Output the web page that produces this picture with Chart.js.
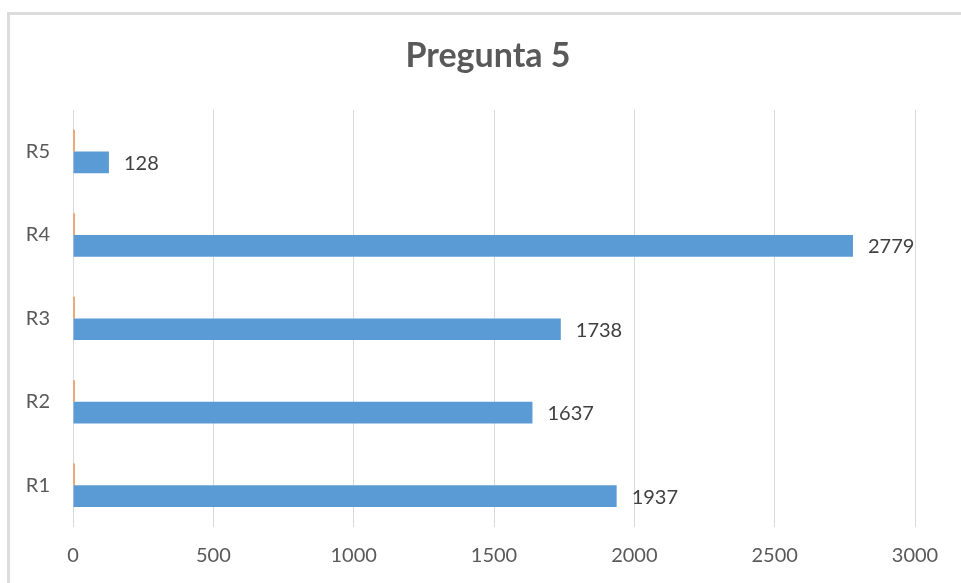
<!DOCTYPE html>
<html>
<head>
<meta charset="utf-8">
<script src="https://cdn.jsdelivr.net/npm/chart.js@4"></script>
<style>
    body { margin: 0; background: #fff; overflow: hidden; }
    #frame {
        position: absolute; left: 7px; top: 12px;
        width: 1000px; height: 1000px;
        border: 3px solid #dcdcdc;
    }
    #wrap { position: absolute; left: 0; top: 0; width: 961px; height: 583px; }
</style>
</head>
<body>
<div id="frame"></div>
<div id="wrap"><canvas id="chart" width="961" height="583"></canvas></div>
<script>
// Categories and values (bottom to top)
const categories = ["R1", "R2", "R3", "R4", "R5"];
const mainValues = [1937, 1637, 1738, 2779, 128];
const smallValues = [6, 6, 6, 6, 6];
const xTicks = [0, 500, 1000, 1500, 2000, 2500, 3000];

// Draws the value next to each blue bar
const valueLabels = {
    id: "valueLabels",
    afterDatasetsDraw(chart) {
        const ctx = chart.ctx;
        const meta = chart.getDatasetMeta(1);
        ctx.save();
        ctx.font = "20px Lato";
        ctx.fillStyle = "#404040";
        ctx.textAlign = "left";
        ctx.textBaseline = "middle";
        meta.data.forEach((bar, i) => {
            ctx.fillText(String(mainValues[i]), bar.x + 15, bar.y + 1);
        });
        ctx.restore();
    }
};

new Chart(document.getElementById("chart"), {
    type: "bar",
    data: {
        labels: categories,
        datasets: [
            {
                label: "Serie 2",
                data: smallValues,
                backgroundColor: "#ed7d31",
                categoryPercentage: 0.52,
                barPercentage: 1
            },
            {
                label: "Serie 1",
                data: mainValues,
                backgroundColor: "#5b9bd5",
                categoryPercentage: 0.52,
                barPercentage: 1
            }
        ]
    },
    options: {
        indexAxis: "y",
        responsive: false,
        animation: false,
        layout: { padding: { top: 0, right: 0, bottom: 0, left: 15 } },
        plugins: {
            legend: { display: false },
            tooltip: { enabled: false },
            title: {
                display: true,
                text: "Pregunta 5",
                color: "#595959",
                font: { family: "Lato", size: 34, weight: "bold" },
                padding: { top: 36, bottom: 33 }
            }
        },
        scales: {
            x: {
                min: 0,
                max: 3000,
                afterBuildTicks(scale) {
                    scale.ticks = xTicks.map(v => ({ value: v }));
                },
                afterFit(scale) { scale.height = 56; },
                grid: { color: "#d9d9d9", lineWidth: 1, drawTicks: false },
                border: { display: false },
                ticks: {
                    color: "#595959",
                    font: { family: "Lato", size: 20 },
                    padding: 17,
                    maxRotation: 0,
                    callback: v => String(v)
                }
            },
            y: {
                reverse: true,
                afterFit(scale) { scale.width = 58; },
                grid: { display: false, drawTicks: false },
                border: { display: false },
                ticks: {
                    color: "#595959",
                    font: { family: "Lato", size: 20 },
                    padding: 23
                }
            },
            yRight: {
                position: "right",
                display: true,
                afterFit(scale) { scale.width = 46; },
                grid: { display: false, drawTicks: false },
                border: { display: false },
                ticks: { display: false }
            }
        }
    },
    plugins: [valueLabels]
});
</script>
</body>
</html>
